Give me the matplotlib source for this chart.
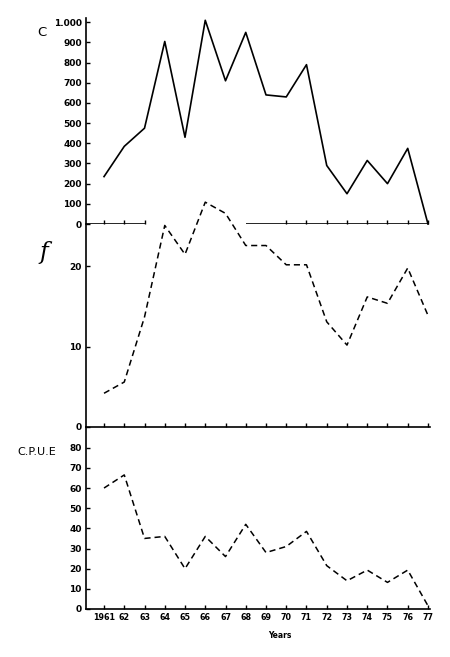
import matplotlib
matplotlib.use("Agg")
import matplotlib.pyplot as plt

# data
years = list(range(1961, 1978))
catch = [235, 385, 475, 905, 430, 1010, 710, 950, 640, 630, 790,
         290, 150, 315, 200, 375, 0]
effort = [4.2, 5.6, 13.7, 25.1, 21.5, 28.0, 26.6, 22.6, 22.6, 20.2, 20.2,
          13.1, 10.2, 16.2, 15.4, 19.8, 13.9]
cpue = [60, 66.5, 35, 36, 20, 36, 26, 42, 28, 31, 38.5,
        21.5, 14, 19.3, 13.2, 19.3, 1.6]

year_labels = ["1961"] + [str(y)[2:] for y in years[1:]]
c_ticks = list(range(0, 1001, 100))
c_ticklabels = [str(v) for v in c_ticks[:-1]] + ["1.000"]
f_ticks = [0, 10, 20]
cpue_ticks = list(range(0, 81, 10))

W, H = 450, 657
fig = plt.figure(figsize=(W / 100, H / 100), dpi=100)

x_left, x_right = 86, 430
xlim = (1960.11, 1977.1)


def frac_box(top_px, bottom_px):
    return [x_left / W, 1 - bottom_px / H, (x_right - x_left) / W,
            (bottom_px - top_px) / H]


tick_font = dict(fontsize=6.5, fontweight="bold", family="DejaVu Sans")
xtick_font = dict(fontsize=5.8, fontweight="bold", family="DejaVu Sans")
dash = (0, (4, 2.6))


def style(ax):
    ax.patch.set_alpha(0)
    for s in ["top", "right"]:
        ax.spines[s].set_visible(False)
    ax.spines["left"].set_linewidth(1.2)
    ax.spines["bottom"].set_linewidth(1.2)
    ax.tick_params(axis="y", direction="in", length=3, width=1.0, pad=3)
    ax.tick_params(axis="x", direction="in", length=3, width=1.0)
    ax.set_xlim(*xlim)


# top panel: catch
ax_c = fig.add_axes(frac_box(18, 224))
style(ax_c)
ax_c.set_ylim(0, (224 - 18) / 0.2017)
ax_c.spines["bottom"].set_visible(False)
ax_c.hlines(0, xlim[0], 1963, color="black", lw=1.2)
ax_c.hlines(0, 1968, 1977, color="black", lw=1.2)
ax_c.set_xticks([1961, 1962, 1963] + list(range(1970, 1978)))
ax_c.set_xticklabels([])
ax_c.set_yticks(c_ticks)
ax_c.set_yticklabels(c_ticklabels, **tick_font)
ax_c.plot(years, catch, color="black", lw=1.2, clip_on=False)

# middle panel: effort
ax_f = fig.add_axes(frac_box(224, 427))
style(ax_f)
ax_f.set_ylim(0, (427 - 224) / 8.03)
ax_f.set_xticks(years)
ax_f.set_xticklabels([])
ax_f.set_yticks(f_ticks)
ax_f.set_yticklabels([str(v) for v in f_ticks], **tick_font)
ax_f.plot(years, effort, color="black", lw=1.1, linestyle=dash, clip_on=False)

# bottom panel: CPUE
ax_u = fig.add_axes(frac_box(427, 609))
style(ax_u)
ax_u.set_ylim(0, (609 - 427) / 2.016)
ax_u.set_xticks(years)
ax_u.set_xticklabels(year_labels, **xtick_font)
ax_u.tick_params(axis="x", pad=3)
ax_u.set_yticks(cpue_ticks)
ax_u.set_yticklabels([str(v) for v in cpue_ticks], **tick_font)
ax_u.plot(years, cpue, color="black", lw=1.1, linestyle=dash, clip_on=False)

# panel labels
fig.text(42 / W, 1 - 32 / H, "C", fontsize=9.5, ha="center", va="center")
fig.text(44 / W, 1 - 252 / H, "f", fontsize=17, ha="center", va="center",
         family="DejaVu Serif", style="italic")
fig.text(37 / W, 1 - 452 / H, "C.P.U.E", fontsize=8, ha="center",
         va="center")
fig.text(280 / W, 1 - 635 / H, "Years", fontsize=5.5, fontweight="bold",
         ha="center", va="center")

fig.savefig("out.png", dpi=100)
